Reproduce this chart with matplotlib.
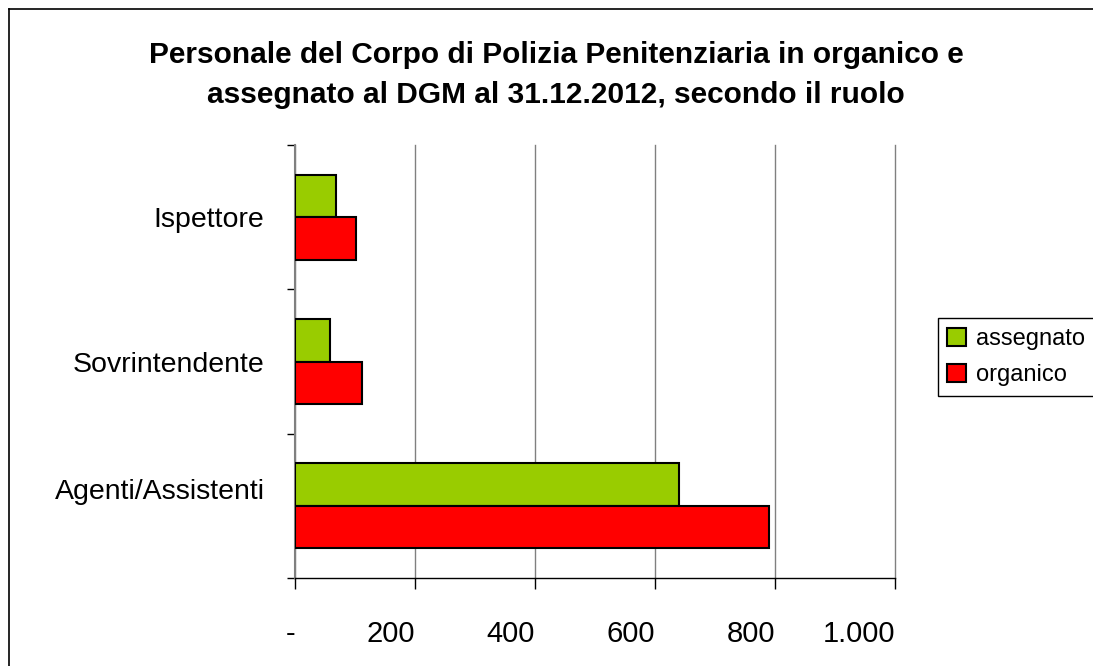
import numpy as np
import matplotlib
matplotlib.use('Agg')
import matplotlib.pyplot as plt
import matplotlib.transforms as mtransforms
from matplotlib.lines import Line2D
from matplotlib.patches import Patch

plt.rcParams['font.family'] = ['Liberation Sans', 'DejaVu Sans']

# data
categories = ['Agenti/Assistenti', 'Sovrintendente', 'Ispettore']
assegnato = [640, 58, 68]
organico = [790, 112, 102]
xticks = [0, 200, 400, 600, 800, 1000]
xlabels = ['-', '200', '400', '600', '800', '1.000']

green = '#99CC00'
red = '#FF0000'

fig = plt.figure(figsize=(10.93, 6.66), dpi=100)
ax = fig.add_axes([295 / 1093, 1 - 578 / 666, 600 / 1093, 433 / 666])

y = np.arange(len(categories))
h = 0.295
ax.barh(y + h / 2, assegnato, height=h, color=green, edgecolor='black',
        linewidth=1.5, label='assegnato', zorder=3)
ax.barh(y - h / 2, organico, height=h, color=red, edgecolor='black',
        linewidth=1.5, label='organico', zorder=3)

ax.set_xlim(0, 1000)
ax.set_ylim(-0.5, len(categories) - 0.5)

ax.set_xticks(xticks)
ax.set_xticklabels(xlabels, fontsize=21, ha='right')
ax.tick_params(axis='x', length=8, width=1, pad=22, direction='out')
ax.grid(axis='x', color='#808080', linewidth=1, zorder=0)
for gl in ax.get_xgridlines():
    gl.set_clip_on(False)

ax.set_yticks(y)
ax.set_yticklabels(categories, fontsize=20.5)
ax.tick_params(axis='y', which='major', length=0, pad=22)
ax.set_yticks(np.arange(len(categories) + 1) - 0.5, minor=True)
ax.tick_params(axis='y', which='minor', length=6, width=1, direction='out')

# the bottom label sits a bit higher in the reference
lab = ax.get_yticklabels()[0]
lab.set_transform(lab.get_transform() +
                  mtransforms.ScaledTranslation(0, 17 / 100, fig.dpi_scale_trans))

for s in ['top', 'right']:
    ax.spines[s].set_visible(False)
ax.spines['left'].set_color('#808080')
ax.spines['left'].set_linewidth(1.5)
ax.spines['bottom'].set_color('black')
ax.spines['bottom'].set_linewidth(1)

fig.text(556 / 1093, 1 - 55 / 666, 'Personale del Corpo di Polizia Penitenziaria in organico e',
         ha='center', va='center', fontsize=21.5, fontweight='bold')
fig.text(556 / 1093, 1 - 95 / 666, 'assegnato al DGM al 31.12.2012, secondo il ruolo',
         ha='center', va='center', fontsize=21.5, fontweight='bold')

handles = [Patch(facecolor=green, edgecolor='black', linewidth=1.5, label='assegnato'),
           Patch(facecolor=red, edgecolor='black', linewidth=1.5, label='organico')]
leg = fig.legend(handles=handles, loc='center left',
                 bbox_to_anchor=(938 / 1093, 1 - 357 / 666), fontsize=17,
                 frameon=True, fancybox=False, framealpha=1, edgecolor='black',
                 handlelength=0.8, handleheight=0.8, handletextpad=0.4,
                 borderpad=0.4, labelspacing=0.6, borderaxespad=0)
leg.get_frame().set_linewidth(1)

# outer chart frame (cut off on the right and bottom)
fig.add_artist(Line2D([9 / 1093, 1.0], [1 - 9 / 666, 1 - 9 / 666],
                      transform=fig.transFigure, color='black', linewidth=1.2))
fig.add_artist(Line2D([9 / 1093, 9 / 1093], [0.0, 1 - 9 / 666],
                      transform=fig.transFigure, color='black', linewidth=1.2))

fig.savefig('out.png', dpi=100)
